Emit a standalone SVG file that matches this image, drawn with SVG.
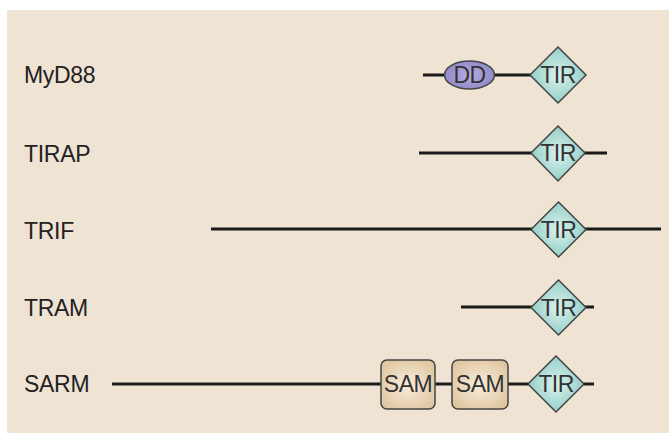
<svg xmlns="http://www.w3.org/2000/svg" width="669" height="433" viewBox="0 0 669 433">
<defs>
<radialGradient id="gTir" cx="0.5" cy="0.5" r="0.55">
<stop offset="0" stop-color="#DDF1EE"/>
<stop offset="1" stop-color="#8CCCC3"/>
</radialGradient>
<radialGradient id="gDD" cx="0.5" cy="0.5" r="0.6">
<stop offset="0" stop-color="#B5AEE0"/>
<stop offset="1" stop-color="#8C84C6"/>
</radialGradient>
<radialGradient id="gSam" cx="0.5" cy="0.5" r="0.6">
<stop offset="0" stop-color="#F8EDDD"/>
<stop offset="1" stop-color="#E0C6A0"/>
</radialGradient>
<style>
.lbl{font-family:"Liberation Sans",Arial,sans-serif;font-size:23px;fill:#222;letter-spacing:-0.3px}
.dom{font-family:"Liberation Sans",Arial,sans-serif;font-size:23px;fill:#333;text-anchor:middle;letter-spacing:-0.5px}
.ln{stroke:#1a1a1a;stroke-width:3;fill:none}
.tir{fill:url(#gTir);stroke:#444;stroke-width:1.5}
.dd{fill:url(#gDD);stroke:#444;stroke-width:1.5}
.sam{fill:url(#gSam);stroke:#444;stroke-width:1.5}
</style>
</defs>
<rect x="0" y="0" width="669" height="433" fill="#FFFFFF"/>
<rect x="7" y="10" width="662" height="423" fill="#EFE3D4"/>
<g id="connectors">
<line class="ln" x1="423" y1="75" x2="445" y2="75"/>
<line class="ln" x1="494" y1="75" x2="531" y2="75"/>
<line class="ln" x1="419" y1="153" x2="607" y2="153"/>
<line class="ln" x1="211" y1="229" x2="661" y2="229"/>
<line class="ln" x1="461" y1="307" x2="594" y2="307"/>
<line class="ln" x1="112" y1="384" x2="594" y2="384"/>
</g>
<g id="MyD88">
<text class="lbl" x="24" y="83">MyD88</text>
<ellipse class="dd" cx="469.5" cy="75" rx="25" ry="14"/>
<text class="dom" x="469.5" y="83">DD</text>
<polygon class="tir" points="558,47 586,75 558,103 530,75"/>
<text class="dom" x="558" y="83">TIR</text>
</g>
<g id="TIRAP">
<text class="lbl" x="24" y="162">TIRAP</text>
<polygon class="tir" points="558,126 585,153 558,181 531,153"/>
<text class="dom" x="558" y="161">TIR</text>
</g>
<g id="TRIF">
<text class="lbl" x="24" y="239">TRIF</text>
<polygon class="tir" points="558.5,202 586,229.5 558.5,257 531,229.5"/>
<text class="dom" x="558.5" y="237.5">TIR</text>
</g>
<g id="TRAM">
<text class="lbl" x="24" y="316">TRAM</text>
<polygon class="tir" points="558.5,280 586,307.5 558.5,335 531,307.5"/>
<text class="dom" x="558.5" y="315.5">TIR</text>
</g>
<g id="SARM">
<text class="lbl" x="24" y="392">SARM</text>
<rect class="sam" x="381" y="360" width="54" height="49" rx="6"/>
<text class="dom" x="408" y="392">SAM</text>
<rect class="sam" x="452" y="360" width="56" height="49" rx="6"/>
<text class="dom" x="480" y="392">SAM</text>
<polygon class="tir" points="556,356 584,384 556,412 528,384"/>
<text class="dom" x="556" y="392">TIR</text>
</g>
</svg>
